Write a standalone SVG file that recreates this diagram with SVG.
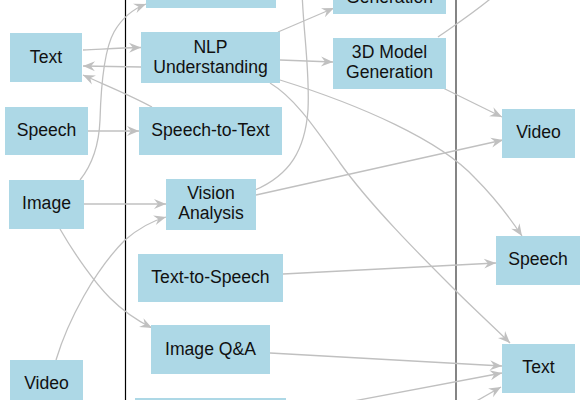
<svg xmlns="http://www.w3.org/2000/svg" width="588" height="400" viewBox="0 0 588 400">
<defs>
<marker id="ah" markerUnits="userSpaceOnUse" markerWidth="13" markerHeight="11" refX="12" refY="5" orient="auto" overflow="visible">
<path d="M0,0 L12,5 L0,10 L4,5 z" fill="#c0c0c0"/>
</marker>
<style>
.n rect{fill:#add8e6;stroke:none}
.n text{font-family:"Liberation Sans",Arial,sans-serif;font-size:17.6px;fill:#111;text-anchor:middle}
.e path{fill:none;stroke:#c0c0c0;stroke-width:1.3;marker-end:url(#ah)}
.e path.o{marker-end:none}
</style>
</defs>
<rect width="588" height="400" fill="#fff"/>
<g id="cluster">
<line x1="125.5" y1="-5" x2="125.5" y2="405" stroke="#000" stroke-width="1.2"/>
<line x1="456" y1="-5" x2="456" y2="405" stroke="#333" stroke-width="1.2"/>
</g>
<g id="edges" class="e">
<path d="M83,50 C105,49 120,48 141,47.5"/>
<path d="M141,67 L83,66"/>
<path d="M152,107 C130,95 105,85 83,75"/>
<path d="M88,131 L139,131"/>
<path d="M80,180 C92,165 99,145 100,120 C101,85 104,50 114,32 C122,18 133,9 146,4"/>
<path d="M84,204 L166,204"/>
<path d="M60,229 C75,255 95,283 110,298 C125,313 140,322 152,328"/>
<path d="M56,360 C68,320 95,270 125,240 C140,227 152,221 166,217"/>
<path d="M278,32 L334,8"/>
<path d="M280,60 L333,62"/>
<path d="M280,80 C360,105 440,140 475,178 C495,198 510,218 522,236"/>
<path d="M270,83 C295,98 315,128 340,163 C370,205 420,255 453,288 C475,310 495,328 510,343"/>
<path class="o" d="M255,190 C290,175 305,150 308,110 C310,70 303,30 302,-10"/>
<path d="M256,195 L503,140"/>
<path d="M443,88 L502,117"/>
<path class="o" d="M438,37 C455,25 475,12 495,-5"/>
<path d="M283,274 L496,263"/>
<path d="M270,353 L502,366"/>
<path d="M343,403 L502,373"/>
<path d="M473,403 L501,387"/>
</g>
<g id="in_text" class="n"><rect x="10" y="33" width="72" height="49"/><text x="46" y="63">Text</text></g>
<g id="in_speech" class="n"><rect x="5" y="107" width="83" height="48"/><text x="46.5" y="136">Speech</text></g>
<g id="in_image" class="n"><rect x="9" y="180" width="75" height="49"/><text x="46.5" y="209">Image</text></g>
<g id="in_video" class="n"><rect x="10" y="360" width="73" height="49"/><text x="46.5" y="389">Video</text></g>
<g id="top_mid" class="n"><rect x="146" y="-45" width="130" height="53"/></g>
<g id="nlp" class="n"><rect x="141" y="32" width="139" height="51"/><text x="210.5" y="53">NLP</text><text x="210.5" y="72.5">Understanding</text></g>
<g id="stt" class="n"><rect x="139" y="107" width="143" height="48"/><text x="210.5" y="136">Speech-to-Text</text></g>
<g id="vision" class="n"><rect x="166" y="179" width="90" height="51"/><text x="211" y="199">Vision</text><text x="211" y="219">Analysis</text></g>
<g id="tts" class="n"><rect x="138" y="254" width="145" height="48"/><text x="210.5" y="283">Text-to-Speech</text></g>
<g id="imageqa" class="n"><rect x="151" y="325" width="119" height="49"/><text x="210.5" y="355">Image Q&amp;A</text></g>
<g id="bottom_mid" class="n"><rect x="135" y="398" width="151" height="50"/></g>
<g id="gen_top" class="n"><rect x="333" y="-40" width="113" height="54"/><text x="389.5" y="2.5">Generation</text></g>
<g id="gen3d" class="n"><rect x="333" y="38" width="113" height="51"/><text x="389.5" y="58">3D Model</text><text x="389.5" y="77.5">Generation</text></g>
<g id="out_video" class="n"><rect x="502" y="109" width="73" height="49"/><text x="538.5" y="138">Video</text></g>
<g id="out_speech" class="n"><rect x="496" y="236" width="84" height="49"/><text x="538" y="265">Speech</text></g>
<g id="out_text" class="n"><rect x="502" y="344" width="73" height="49"/><text x="538.5" y="373">Text</text></g>
</svg>
